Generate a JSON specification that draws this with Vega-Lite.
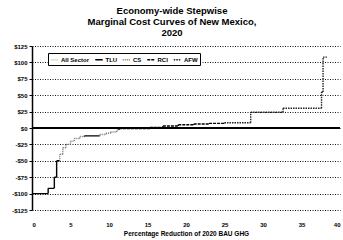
{
  "$schema": "https://vega.github.io/schema/vega-lite/v6.json",
  "width": 308,
  "height": 164,
  "autosize": {"type": "none"},
  "padding": {"left": 32, "top": 46, "right": 3, "bottom": 30},
  "background": "white",
  "config": {
    "font": "Liberation Sans",
    "view": {"stroke": null},
    "axis": {
      "labelFontSize": 6,
      "labelFontWeight": "bold",
      "labelColor": "#000000",
      "titleColor": "#000000",
      "labelOverlap": false
    },
    "axisX": {
      "domain": false,
      "ticks": false,
      "grid": false,
      "labelPadding": 11,
      "titleFontSize": 6.5,
      "titleFontWeight": "bold",
      "titlePadding": 3
    },
    "axisY": {
      "labelPadding": 2,
      "tickSize": 3,
      "tickColor": "black",
      "domainColor": "black",
      "domainWidth": 1.5,
      "grid": true,
      "gridColor": "#111111",
      "gridDash": [1, 1.5],
      "gridWidth": 1
    }
  },
  "title": {
    "text": ["Economy-wide Stepwise", "Marginal Cost Curves of New Mexico,", "2020"],
    "fontSize": 9.5,
    "fontWeight": "bold",
    "font": "Liberation Sans",
    "lineHeight": 11,
    "anchor": "middle",
    "offset": 6,
    "dx": -14,
    "color": "black"
  },
  "data": {
    "values": [
      {"x0": 0, "x1": 2.1, "cost": -100, "prev": -100, "sector": "TLU"},
      {"x0": 2.1, "x1": 2.9, "cost": -92, "prev": -100, "sector": "TLU"},
      {"x0": 2.9, "x1": 3.2, "cost": -75, "prev": -92, "sector": "TLU"},
      {"x0": 3.2, "x1": 3.6, "cost": -50, "prev": -75, "sector": "TLU"},
      {"x0": 3.6, "x1": 4.0, "cost": -40, "prev": -50, "sector": "CS"},
      {"x0": 4.0, "x1": 4.4, "cost": -30, "prev": -40, "sector": "CS"},
      {"x0": 4.4, "x1": 5.0, "cost": -25, "prev": -30, "sector": "CS"},
      {"x0": 5.0, "x1": 5.5, "cost": -20, "prev": -25, "sector": "CS"},
      {"x0": 5.5, "x1": 6.2, "cost": -16, "prev": -20, "sector": "CS"},
      {"x0": 6.2, "x1": 6.8, "cost": -13, "prev": -16, "sector": "CS"},
      {"x0": 6.8, "x1": 8.8, "cost": -12, "prev": -13, "sector": "TLU"},
      {"x0": 8.8, "x1": 9.6, "cost": -10, "prev": -12, "sector": "CS"},
      {"x0": 9.6, "x1": 10.2, "cost": -8, "prev": -10, "sector": "CS"},
      {"x0": 10.2, "x1": 11.0, "cost": -6, "prev": -8, "sector": "CS"},
      {"x0": 11.0, "x1": 11.3, "cost": -3, "prev": -6, "sector": "CS"},
      {"x0": 11.3, "x1": 15.3, "cost": -1, "prev": -3, "sector": "RCI"},
      {"x0": 15.3, "x1": 17, "cost": 1, "prev": -1, "sector": "RCI"},
      {"x0": 17, "x1": 19, "cost": 3, "prev": 1, "sector": "RCI"},
      {"x0": 19, "x1": 21, "cost": 5, "prev": 3, "sector": "RCI"},
      {"x0": 21, "x1": 23, "cost": 6, "prev": 5, "sector": "RCI"},
      {"x0": 23, "x1": 25, "cost": 7, "prev": 6, "sector": "RCI"},
      {"x0": 25, "x1": 28.4, "cost": 8, "prev": 7, "sector": "AFW"},
      {"x0": 28.4, "x1": 32.6, "cost": 24, "prev": 8, "sector": "AFW"},
      {"x0": 32.6, "x1": 37.6, "cost": 30, "prev": 24, "sector": "AFW"},
      {"x0": 37.6, "x1": 37.8, "cost": 55, "prev": 30, "sector": "AFW"},
      {"x0": 37.8, "x1": 38.3, "cost": 108, "prev": 55, "sector": "AFW"}
    ]
  },
  "encoding": {
    "color": {
      "field": "sector",
      "type": "nominal",
      "title": null,
      "scale": {
        "domain": ["All Sector", "TLU", "CS", "RCI", "AFW"],
        "range": ["#dddddd", "#000000", "#777777", "#000000", "#222222"]
      },
      "legend": {
        "orient": "none",
        "legendX": 16,
        "legendY": 7,
        "direction": "horizontal",
        "symbolType": "stroke",
        "symbolSize": 56,
        "symbolStrokeWidth": 1.5,
        "labelFontSize": 6,
        "labelFontWeight": "bold",
        "labelColor": "black",
        "columnPadding": 1.5,
        "labelOffset": 2,
        "padding": 2,
        "strokeColor": "black",
        "fillColor": "white"
      }
    },
    "strokeDash": {
      "field": "sector",
      "type": "nominal",
      "title": null,
      "scale": {
        "domain": ["All Sector", "TLU", "CS", "RCI", "AFW"],
        "range": [[1, 0], [1, 0], [1, 1], [3, 1], [1.5, 1]]
      }
    }
  },
  "layer": [
    {
      "mark": {"type": "rule", "strokeWidth": 1.4},
      "encoding": {
        "x": {
          "field": "x0",
          "type": "quantitative",
          "scale": {"domain": [0, 40], "nice": false},
          "axis": {"values": [0, 5, 10, 15, 20, 25, 30, 35, 40], "title": "Percentage Reduction of 2020 BAU GHG"}
        },
        "x2": {"field": "x1"},
        "y": {
          "field": "cost",
          "type": "quantitative",
          "scale": {"domain": [-125, 125], "nice": false},
          "axis": {
            "values": [-125, -100, -75, -50, -25, 0, 25, 50, 75, 100, 125],
            "labelExpr": "datum.value < 0 ? '-$' + abs(datum.value) : '$' + datum.value",
            "title": null
          }
        }
      }
    },
    {
      "mark": {"type": "rule", "strokeWidth": 1.4},
      "encoding": {
        "x": {
          "field": "x0",
          "type": "quantitative",
          "scale": {"domain": [0, 40], "nice": false},
          "axis": {"values": [0, 5, 10, 15, 20, 25, 30, 35, 40], "title": "Percentage Reduction of 2020 BAU GHG"}
        },
        "y": {
          "field": "prev",
          "type": "quantitative",
          "scale": {"domain": [-125, 125], "nice": false},
          "axis": {
            "values": [-125, -100, -75, -50, -25, 0, 25, 50, 75, 100, 125],
            "labelExpr": "datum.value < 0 ? '-$' + abs(datum.value) : '$' + datum.value",
            "title": null
          }
        },
        "y2": {"field": "cost"}
      }
    },
    {
      "mark": {"type": "rule", "color": "black", "strokeWidth": 1.2},
      "encoding": {
        "y": {
          "datum": 0,
          "type": "quantitative",
          "scale": {"domain": [-125, 125], "nice": false},
          "axis": {
            "values": [-125, -100, -75, -50, -25, 0, 25, 50, 75, 100, 125],
            "labelExpr": "datum.value < 0 ? '-$' + abs(datum.value) : '$' + datum.value",
            "title": null
          }
        },
        "color": {"value": "black"},
        "strokeDash": {"value": [1, 0]}
      }
    }
  ]
}
